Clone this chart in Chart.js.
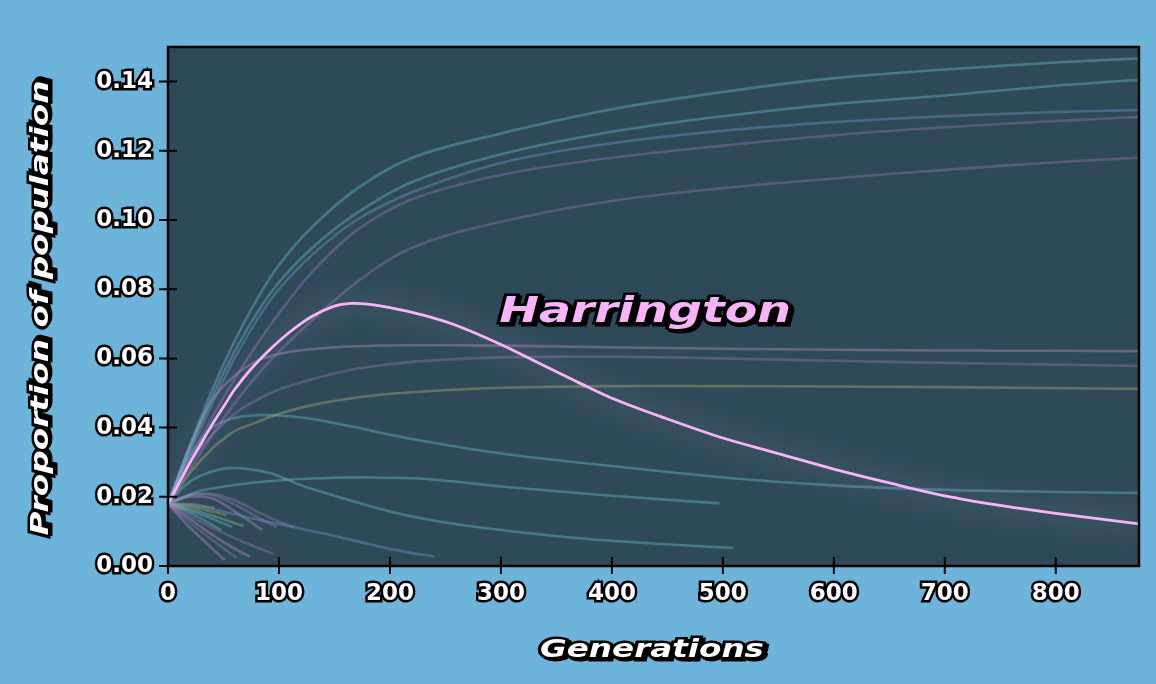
<!DOCTYPE html>
<html lang="en">

<head>
    <meta charset="UTF-8">
    <title>Proportion of population - Harrington</title>
    <style>
        html, body {
            margin: 0;
            padding: 0;
            background-color: #6cb4d9;
            overflow: hidden;
        }

        #chart {
            display: block;
        }
    </style>
</head>

<body>
    <canvas id="chart" width="1156" height="684"></canvas>

    <script src="https://cdn.jsdelivr.net/npm/chart.js"></script>

    <script>
        // Ticks
        const xTicks = [0, 100, 200, 300, 400, 500, 600, 700, 800];
        const yTicks = [0, 0.02, 0.04, 0.06, 0.08, 0.10, 0.12, 0.14];

        // Highlighted lineage
        const harringtonGens = [0, 10, 20, 30, 40, 50, 60, 75, 90, 110, 130, 150, 165, 180, 200, 230, 260, 300, 340, 370, 400, 450, 500, 550, 600, 650, 700, 750, 800, 875];
        const harringtonVals = [0.018, 0.024, 0.030, 0.0355, 0.041, 0.046, 0.051, 0.057, 0.062, 0.0677, 0.0722, 0.0751, 0.0759, 0.0757, 0.0747, 0.0725, 0.0695, 0.064, 0.0577, 0.053, 0.0485, 0.0425, 0.037, 0.0325, 0.028, 0.024, 0.0203, 0.0175, 0.0152, 0.0122];

        // Other lineages that survive the whole run
        const longGens = [0, 20, 40, 60, 80, 100, 130, 170, 220, 300, 400, 500, 600, 700, 800, 875];
        const lineA = [0.018, 0.035, 0.051, 0.065, 0.077, 0.087, 0.098, 0.109, 0.118, 0.125, 0.132, 0.137, 0.141, 0.1435, 0.1455, 0.1467];
        const lineB = [0.018, 0.034, 0.049, 0.062, 0.073, 0.082, 0.092, 0.102, 0.111, 0.119, 0.1255, 0.130, 0.1335, 0.136, 0.1388, 0.1405];
        const lineC = [0.018, 0.033, 0.047, 0.060, 0.071, 0.080, 0.090, 0.100, 0.108, 0.1165, 0.1222, 0.1258, 0.1283, 0.1300, 0.1312, 0.1318];
        const lineD = [0.018, 0.031, 0.043, 0.054, 0.064, 0.073, 0.085, 0.097, 0.106, 0.1130, 0.1180, 0.1215, 0.1245, 0.1268, 0.1286, 0.1298];
        const lineE = [0.018, 0.028, 0.038, 0.047, 0.055, 0.062, 0.071, 0.082, 0.092, 0.0995, 0.1055, 0.1092, 0.1120, 0.1145, 0.1167, 0.118];
        const lineF = [0.018, 0.035, 0.048, 0.055, 0.0592, 0.0613, 0.0627, 0.0635, 0.0638, 0.0637, 0.0632, 0.0628, 0.0625, 0.0623, 0.0622, 0.0621];
        const lineG = [0.018, 0.030, 0.038, 0.044, 0.048, 0.051, 0.054, 0.057, 0.059, 0.0603, 0.0605, 0.060, 0.0593, 0.0587, 0.0582, 0.0578];
        const lineH = [0.018, 0.027, 0.034, 0.039, 0.0415, 0.044, 0.0465, 0.0487, 0.0502, 0.0515, 0.052, 0.052, 0.0519, 0.0517, 0.0514, 0.0512];
        const lineI = [0.018, 0.032, 0.040, 0.0428, 0.0436, 0.0435, 0.0425, 0.0400, 0.0367, 0.0325, 0.0289, 0.0256, 0.0233, 0.0220, 0.0214, 0.0211];

        // Lineages that die out
        const jGens = [0, 15, 30, 60, 90, 130, 180, 230, 300, 400, 497];
        const jVals = [0.018, 0.020, 0.0218, 0.0234, 0.0245, 0.0253, 0.0256, 0.0252, 0.0230, 0.0203, 0.0181];
        const kGens = [0, 15, 30, 55, 90, 120, 150, 180, 210, 240, 300, 390, 509];
        const kVals = [0.018, 0.0232, 0.0262, 0.0283, 0.0270, 0.0233, 0.0203, 0.0175, 0.0150, 0.0131, 0.0104, 0.0075, 0.0052];
        const mGens = [0, 20, 40, 60, 90, 120, 150, 180, 210, 240];
        const mVals = [0.018, 0.0175, 0.0165, 0.015, 0.0128, 0.0108, 0.0087, 0.0064, 0.0043, 0.0027];

        const s1Gens = [0, 20, 40, 60, 80, 100, 113];
        const s1Vals = [0.018, 0.0205, 0.0208, 0.019, 0.0158, 0.0128, 0.0113];
        const s2Gens = [0, 20, 40, 60, 80, 98];
        const s2Vals = [0.018, 0.0205, 0.0205, 0.0178, 0.0142, 0.0113];
        const s3Gens = [0, 20, 40, 60, 85];
        const s3Vals = [0.018, 0.020, 0.0195, 0.0158, 0.0104];
        const l1Gens = [0, 25, 50, 75, 95];
        const l1Vals = [0.018, 0.0135, 0.0095, 0.006, 0.0035];
        const l2Gens = [0, 20, 40, 60, 74];
        const l2Vals = [0.018, 0.0135, 0.009, 0.005, 0.0026];
        const l3Gens = [0, 20, 40, 62];
        const l3Vals = [0.018, 0.0125, 0.0075, 0.0023];
        const l4Gens = [0, 17, 34, 51];
        const l4Vals = [0.018, 0.012, 0.0068, 0.0017];
        const t1Gens = [0, 30, 68];
        const t1Vals = [0.018, 0.0155, 0.0116];
        const t2Gens = [0, 30, 58];
        const t2Vals = [0.018, 0.0148, 0.0113];
        const t3Gens = [0, 25, 53];
        const t3Vals = [0.018, 0.0168, 0.0147];
        const t4Gens = [0, 20, 42];
        const t4Vals = [0.018, 0.0178, 0.0168];
        const t5Gens = [0, 25, 48];
        const t5Vals = [0.018, 0.0145, 0.0104];

        // Cores (linhas apagadas)
        const TEAL = 'rgba(106, 189, 205, 0.4)';
        const BLUE = 'rgba(110, 150, 205, 0.4)';
        const PURPLE = 'rgba(150, 120, 180, 0.4)';
        const PINK = 'rgba(195, 145, 195, 0.38)';
        const GREEN = 'rgba(135, 195, 150, 0.4)';
        const OLIVE = 'rgba(175, 175, 115, 0.4)';
        const HARRINGTON = '#f8b4f8';

        function toPoints(gens, vals) {
            return gens.map((g, i) => ({ x: g, y: vals[i] }));
        }

        function faint(gens, vals, color) {
            return {
                data: toPoints(gens, vals),
                borderColor: color,
                borderWidth: 2.6,
                pointRadius: 0,
                tension: 0.35,
                order: 1
            };
        }

        const datasets = [
            {
                label: 'Harrington',
                data: toPoints(harringtonGens, harringtonVals),
                borderColor: HARRINGTON,
                borderWidth: 2.8,
                pointRadius: 0,
                tension: 0.35,
                order: 0
            },
            faint(longGens, lineA, TEAL),
            faint(longGens, lineB, TEAL),
            faint(longGens, lineC, BLUE),
            faint(longGens, lineD, PURPLE),
            faint(longGens, lineE, PURPLE),
            faint(longGens, lineF, PINK),
            faint(longGens, lineG, PURPLE),
            faint(longGens, lineH, OLIVE),
            faint(longGens, lineI, TEAL),
            faint(jGens, jVals, TEAL),
            faint(kGens, kVals, TEAL),
            faint(mGens, mVals, BLUE),
            faint(s1Gens, s1Vals, PURPLE),
            faint(s2Gens, s2Vals, PURPLE),
            faint(s3Gens, s3Vals, PINK),
            faint(l1Gens, l1Vals, PURPLE),
            faint(l2Gens, l2Vals, PINK),
            faint(l3Gens, l3Vals, PURPLE),
            faint(l4Gens, l4Vals, PINK),
            faint(t1Gens, t1Vals, GREEN),
            faint(t2Gens, t2Vals, TEAL),
            faint(t3Gens, t3Vals, OLIVE),
            faint(t4Gens, t4Vals, OLIVE),
            faint(t5Gens, t5Vals, TEAL)
        ];

        // Texto com contorno preto, esticado na largura desejada
        function outlinedText(ctx, text, cx, cy, size, targetWidth, fill, angle) {
            ctx.save();
            ctx.translate(cx, cy);
            if (angle) ctx.rotate(angle);
            ctx.font = `italic bold ${size}px "DejaVu Sans"`;
            const w = ctx.measureText(text).width;
            ctx.scale(targetWidth / w, 1);
            ctx.textAlign = 'center';
            ctx.textBaseline = 'middle';
            ctx.lineJoin = 'miter';
            ctx.strokeStyle = '#000';
            ctx.lineWidth = 5;
            ctx.strokeText(text, 2, 2);
            ctx.strokeText(text, 0, 0);
            ctx.fillStyle = fill;
            ctx.fillText(text, 0, 0);
            ctx.restore();
        }

        const decorPlugin = {
            id: 'decor',
            beforeDraw(chart) {
                const { ctx, chartArea: a } = chart;
                ctx.save();
                ctx.fillStyle = '#2e4a59';
                ctx.fillRect(a.left, a.top, a.right - a.left, a.bottom - a.top);
                ctx.restore();
            },
            beforeDatasetDraw(chart, args) {
                if (args.index === 0) {
                    chart.ctx.save();
                    chart.ctx.shadowColor = 'rgba(255, 205, 255, 0.55)';
                    chart.ctx.shadowBlur = 26;
                }
            },
            afterDatasetDraw(chart, args) {
                if (args.index === 0) chart.ctx.restore();
            },
            afterDraw(chart) {
                const { ctx, chartArea: a } = chart;
                const xs = chart.scales.x;
                const ys = chart.scales.y;
                ctx.save();
                ctx.strokeStyle = '#000';
                ctx.lineWidth = 2.5;
                ctx.strokeRect(a.left, a.top, a.right - a.left, a.bottom - a.top);
                ctx.lineWidth = 2;
                ctx.beginPath();
                xTicks.forEach(v => {
                    const px = xs.getPixelForValue(v);
                    ctx.moveTo(px, a.bottom - 9);
                    ctx.lineTo(px, a.bottom + 8);
                });
                yTicks.forEach(v => {
                    const py = ys.getPixelForValue(v);
                    ctx.moveTo(a.left - 9, py);
                    ctx.lineTo(a.left + 9, py);
                });
                ctx.stroke();
                ctx.restore();

                outlinedText(ctx, 'Harrington', xs.getPixelForValue(430), ys.getPixelForValue(0.0732), 35, 292, HARRINGTON, 0);
                outlinedText(ctx, 'Generations', 652, 651, 24, 224, '#fff', 0);
                outlinedText(ctx, 'Proportion of population', 42, 308, 24, 455, '#fff', -Math.PI / 2);
            }
        };

        const tickFont = { family: '"DejaVu Sans"', size: 23, weight: 'bold' };

        const chart = new Chart(document.getElementById('chart').getContext('2d'), {
            type: 'line',
            data: { datasets },
            options: {
                responsive: false,
                animation: false,
                events: [],
                layout: { padding: { top: 47, right: 17, left: 0, bottom: 0 } },
                plugins: {
                    legend: { display: false },
                    tooltip: { enabled: false }
                },
                scales: {
                    x: {
                        type: 'linear',
                        min: 0,
                        max: 875,
                        grid: { display: false, drawTicks: false },
                        border: { display: false },
                        afterBuildTicks: s => { s.ticks = xTicks.map(v => ({ value: v })); },
                        afterFit: s => { s.height = 118; },
                        ticks: {
                            padding: 14,
                            color: '#fff',
                            textStrokeColor: '#000',
                            textStrokeWidth: 5,
                            font: tickFont,
                            maxRotation: 0,
                            callback: v => String(v)
                        }
                    },
                    y: {
                        type: 'linear',
                        min: 0,
                        max: 0.15,
                        grid: { display: false, drawTicks: false },
                        border: { display: false },
                        afterBuildTicks: s => { s.ticks = yTicks.map(v => ({ value: v })); },
                        afterFit: s => { s.width = 168; },
                        ticks: {
                            padding: 15,
                            color: '#fff',
                            textStrokeColor: '#000',
                            textStrokeWidth: 5,
                            font: tickFont,
                            callback: v => v.toFixed(2)
                        }
                    }
                }
            },
            plugins: [decorPlugin]
        });
    </script>
</body>

</html>
